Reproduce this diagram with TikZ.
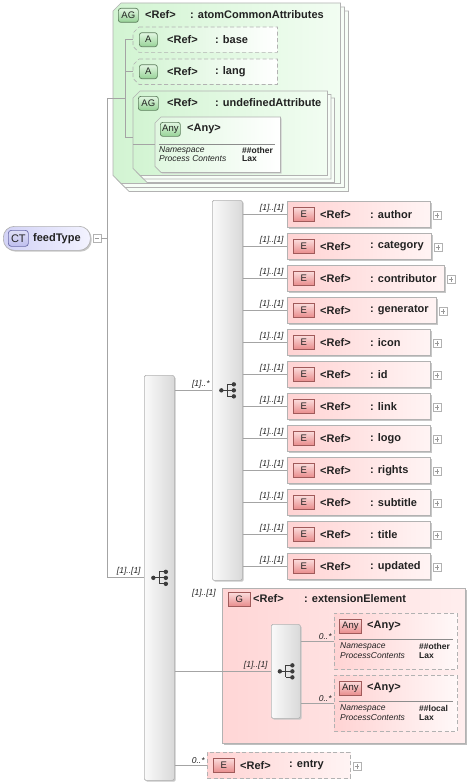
\documentclass[tikz,border=0pt]{standalone}
\usepackage{fontspec}
\setmainfont{Liberation Sans}
\usetikzlibrary{shadows,positioning}

\definecolor{linegray}{HTML}{A4A4A4}
\definecolor{boxgray}{HTML}{B2B2B2}
\definecolor{elleft}{HTML}{FFD3D3}
\definecolor{elright}{HTML}{FFF4F4}
\definecolor{ebtop}{HTML}{FBDCDC}
\definecolor{ebbot}{HTML}{E88C8C}
\definecolor{ebdraw}{HTML}{A05A5A}
\definecolor{agleft}{HTML}{D2F4D2}
\definecolor{agright}{HTML}{F2FDF2}
\definecolor{abtop}{HTML}{E2F7E2}
\definecolor{abbot}{HTML}{96D296}
\definecolor{abdraw}{HTML}{5E7E5E}
\definecolor{ctleft}{HTML}{D2D2F6}
\definecolor{ctright}{HTML}{F3F3FF}
\definecolor{ctbadge}{HTML}{BEBEEE}
\definecolor{ctdraw}{HTML}{6A6AA8}
\definecolor{gleft}{HTML}{FFD6D6}
\definecolor{gright}{HTML}{FFEEEE}
\definecolor{textdark}{HTML}{222222}
\definecolor{icondark}{HTML}{3C3C3C}

% outline of a box whose left corners are cut off
\newcommand{\chamfbox}[2]{([xshift=#2]#1.north west) -- (#1.north east) -- (#1.south east) -- ([xshift=#2]#1.south west) -- ([yshift=#2]#1.south west) -- ([yshift=-#2]#1.north west) -- cycle}

\tikzset{
  conn/.style={draw=linegray, line width=0.8pt},
  sepline/.style={draw=black!45, line width=0.6pt},
  refname/.style={anchor=west, inner sep=0pt, font=\fontsize{11}{13}\selectfont\bfseries, text=textdark},
  occ/.style={inner sep=0pt, font=\fontsize{8.5}{10}\selectfont\itshape, text=textdark},
  small/.style={anchor=west, inner sep=0pt, font=\fontsize{8.5}{10}\selectfont\itshape, text=textdark},
  smallval/.style={anchor=west, inner sep=0pt, font=\fontsize{8.5}{10}\selectfont\bfseries, text=textdark},
  badge/.style={anchor=north west, inner sep=0pt, minimum height=14pt, font=\fontsize{9.5}{11}\selectfont, text=textdark, line width=0.7pt},
  ebadge/.style={badge, draw=ebdraw, top color=ebtop, bottom color=ebbot, minimum width=21pt},
  agbadge/.style={badge, draw=abdraw, top color=abtop, bottom color=abbot, minimum width=20pt, rounded corners=2.5pt},
  ctbadge/.style={badge, draw=ctdraw, top color=white!50!ctbadge, bottom color=ctbadge, minimum width=20pt, minimum height=16pt, rounded corners=3pt, font=\fontsize{11}{13}\selectfont},
  plusbox/.style={anchor=west, draw=black!30, fill=white, minimum size=8pt, inner sep=0pt, line width=0.5pt,
    path picture={\draw[black!40, line width=0.6pt] ([xshift=1.8pt]path picture bounding box.west) -- ([xshift=-1.8pt]path picture bounding box.east) ([yshift=-1.8pt]path picture bounding box.north) -- ([yshift=1.8pt]path picture bounding box.south);}},
  minusbox/.style={anchor=west, draw=black!30, fill=white, minimum size=8pt, inner sep=0pt, line width=0.5pt,
    path picture={\draw[black!40, line width=0.6pt] ([xshift=1.8pt]path picture bounding box.west) -- ([xshift=-1.8pt]path picture bounding box.east);}},
  thinshadow/.style={drop shadow={shadow xshift=1.3pt, shadow yshift=-1.3pt, fill=black!22, opacity=1}},
  ctnode/.style={anchor=north west, inner sep=0pt, draw=boxgray, line width=0.7pt, left color=ctleft, right color=ctright, rounded corners=11pt, thinshadow},
  elbox/.style={anchor=north west, inner sep=0pt, minimum height=26pt, draw=boxgray, line width=0.7pt, left color=elleft, right color=elright},
  optdash/.style={dash pattern=on 4pt off 2.5pt},
  gbox/.style={anchor=north west, inner sep=0pt, draw=boxgray, line width=0.7pt, left color=gleft, right color=gright, drop shadow={shadow xshift=2pt, shadow yshift=-2pt, fill=black!25, opacity=1}},
  holder/.style={anchor=north west, inner sep=0pt},
  agshape/.style={draw=boxgray, line width=0.7pt, left color=agleft, right color=agright},
  stackshape/.style={draw=boxgray, line width=0.7pt, fill=agright!60!white},
  ashape/.style={draw=boxgray, line width=0.7pt, optdash, left color=agleft, right color=white},
  anyshape/.style={draw=boxgray, line width=0.7pt, left color=agleft!70, right color=white},
  anyel/.style={anchor=north west, inner sep=0pt, draw=boxgray, line width=0.7pt, optdash, left color=elleft, right color=elright!60!white},
  seqbox/.style={anchor=north west, inner sep=0pt, minimum width=30pt, draw=boxgray, line width=0.7pt, left color=black!2, right color=black!15, rounded corners=1.5pt, thinshadow},
  seqicon/.pic={
    \draw[icondark, line width=0.9pt] (-6,0) -- (0,0) (0,-6) -- (0,6) (0,-6) -- (6.5,-6) (0,0) -- (6.5,0) (0,6) -- (6.5,6);
    \fill[icondark] (-6,0) circle (2.2pt) (6.5,-6) circle (2.2pt) (6.5,0) circle (2.2pt) (6.5,6) circle (2.2pt);
  }
}

\begin{document}
\begin{tikzpicture}[x=1pt, y=-1pt]
  \useasboundingbox (0,0) rectangle (471,784);
  \fill[white] (0,0) rectangle (471,784);

  % feedType
  \node[ctnode, minimum width=87pt, minimum height=24pt] (feed) at (3,226) {};
  \node[ctbadge, anchor=west] (feedb) at ([xshift=5pt]feed.west) {CT};
  \node[refname] (feedn) at ([xshift=30pt]feed.west) {feedType};
  \node[minusbox] (feedm) at ([xshift=2pt]feed.east) {};
  \coordinate (trtop) at (107,98);
  \coordinate (trbot) at (107,577);
  \draw[conn] (feedm.east) -- (feedm.east -| trtop);
  \draw[conn] (trtop) -- (trbot);

  % atomCommonAttributes
  \node[holder, minimum width=227pt, minimum height=180pt] (acattr) at (113,3) {};
  \node[holder, minimum width=144pt, minimum height=25pt] (base) at (133,27) {};
  \node[holder, minimum width=144pt, minimum height=25pt] (lang) at (133,59) {};
  \node[holder, minimum width=194pt, minimum height=84pt] (undef) at (133,91) {};
  \node[holder, minimum width=125pt, minimum height=55pt] (uany) at (155,117) {};
  \foreach \s in {8,4}
    \draw[stackshape, transform canvas={xshift=\s pt, yshift=-\s pt}] \chamfbox{acattr}{8pt};
  \draw[agshape] \chamfbox{acattr}{8pt};
  \draw[ashape] \chamfbox{base}{6pt};
  \draw[ashape] \chamfbox{lang}{6pt};
  \foreach \s in {7,3.5}
    \draw[stackshape, transform canvas={xshift=\s pt, yshift=-\s pt}] \chamfbox{undef}{7pt};
  \draw[agshape] \chamfbox{undef}{7pt};
  \draw[fill=black!18, draw=none, transform canvas={xshift=1.3pt, yshift=-1.3pt}] \chamfbox{uany}{6pt};
  \draw[anyshape] \chamfbox{uany}{6pt};

  \node[agbadge] (acattrb) at (118,8) {AG};
  \node[refname] (acattrr) at (145,15) {<Ref>};
  \node[refname] (acattrn) at (190,15) {: atomCommonAttributes};
  \node[agbadge, anchor=west, minimum width=18pt] (baseb) at ([xshift=6pt]base.west) {A};
  \node[refname] (baser) at ([xshift=34pt]base.west) {<Ref>};
  \node[refname] (basen) at ([xshift=82pt]base.west) {: base};
  \node[agbadge, anchor=west, minimum width=18pt] (langb) at ([xshift=6pt]lang.west) {A};
  \node[refname] (langr) at ([xshift=34pt]lang.west) {<Ref>};
  \node[refname] (langn) at ([xshift=82pt]lang.west) {: lang};
  \node[agbadge] (undefb) at (138,96) {AG};
  \node[refname] (undefr) at (167,103) {<Ref>};
  \node[refname] (undefn) at (215,103) {: undefinedAttribute};
  \node[agbadge] (uanyb) at (160,122) {Any};
  \node[refname] (uanyr) at (187,129) {<Any>};
  \draw[sepline] ([xshift=4pt,yshift=-27pt]uany.north west) -- ([xshift=-5pt,yshift=-27pt]uany.north east);
  \node[small] (uanyns) at (159,150) {Namespace};
  \node[small] (uanypc) at (159,159) {Process Contents};
  \node[smallval] (uanynv) at (242,150) {\#\#other};
  \node[smallval] (uanypv) at (242,159) {Lax};
  \coordinate (acjoin) at (125,98);
  \coordinate (undefin) at (133,137);
  \draw[conn] (trtop) -- (acjoin);
  \draw[conn] (acjoin |- base.west) -- (acjoin |- undefin) -- (undefin);
  \draw[conn] (acjoin |- base.west) -- (base.west);
  \draw[conn] (acjoin |- lang.west) -- (lang.west);
  \draw[conn] (undefin |- uany.west) -- (uany.west);

  % sequences
  \node[seqbox, minimum height=405pt] (mainseq) at (144,375) {};
  \pic at (mainseq.center) {seqicon};
  \draw[conn] (trbot) -- (trbot -| mainseq.west) node[occ, anchor=south east, pos=1, xshift=-3pt, yshift=1.5pt] (mainocc) {[1]..[1]};
  \node[seqbox, minimum height=380pt] (innseq) at (212,200) {};
  \pic at (innseq.center) {seqicon};
  \draw[conn] (mainseq.east |- innseq.west) -- (innseq.west) node[occ, anchor=south east, pos=1, xshift=-2pt, yshift=1.5pt] (innocc) {[1]..*};

  % elements
  \foreach \nm/\w [count=\i from 0] in {author/143pt,category/144pt,contributor/157pt,generator/149pt,icon/143pt,id/143pt,link/143pt,logo/143pt,rights/143pt,subtitle/143pt,title/143pt,updated/143pt}{
    \node[elbox, thinshadow, minimum width=\w] (\nm) at (287,{201+32*\i}) {};
    \node[ebadge, anchor=west] (\nm-b) at ([xshift=6pt]\nm.west) {E};
    \node[refname] (\nm-r) at ([xshift=33pt]\nm.west) {<Ref>};
    \node[refname] (\nm-n) at ([xshift=83pt]\nm.west) {: \nm};
    \node[plusbox] (\nm-p) at ([xshift=2pt,yshift=-1pt]\nm.east) {};
    \draw[conn] (innseq.east |- \nm.west) -- (\nm.west) node[occ, anchor=south east, pos=1, xshift=-3pt, yshift=1.5pt] (\nm-o) {[1]..[1]};
  }

  % extensionElement
  \node[gbox, minimum width=243pt, minimum height=155pt] (extel) at (222,588) {};
  \node[ebadge, minimum width=22pt] (extelb) at (228,592) {G};
  \node[refname] (extelr) at (253,599) {<Ref>};
  \node[refname] (exteln) at (304,599) {: extensionElement};
  \node[occ, anchor=north east] (extelo) at (216,589) {[1]..[1]};
  \node[seqbox, minimum width=29pt, minimum height=94pt] (extseq) at (271,624) {};
  \pic at (extseq.center) {seqicon};
  \draw[conn] (mainseq.east |- extseq.west) -- (extseq.west) node[occ, anchor=south east, pos=1, xshift=-3pt, yshift=1.5pt] (extseqo) {[1]..[1]};
  % any ##other
  \node[anyel, minimum width=123pt, minimum height=56pt] (anyoth) at (334,613) {};
  \node[ebadge, minimum width=22pt] (anyothb) at (339,619) {Any};
  \node[refname] (anyothr) at (367,626) {<Any>};
  \draw[sepline] ([xshift=5pt,yshift=-26pt]anyoth.north west) -- ([xshift=-5pt,yshift=-26pt]anyoth.north east);
  \node[small] (anyothns) at (340,646) {Namespace};
  \node[small] (anyothpc) at (340,656) {ProcessContents};
  \node[smallval] (anyothnv) at (419,646) {\#\#other};
  \node[smallval] (anyothpv) at (419,656) {Lax};
  \draw[conn] (extseq.east |- anyoth.west) -- (anyoth.west) node[occ, anchor=south east, pos=1, xshift=-2pt, yshift=1.5pt] (anyotho) {0..*};
  % any ##local
  \node[anyel, minimum width=123pt, minimum height=56pt] (anyloc) at (334,675) {};
  \node[ebadge, minimum width=22pt] (anylocb) at (339,681) {Any};
  \node[refname] (anylocr) at (367,688) {<Any>};
  \draw[sepline] ([xshift=5pt,yshift=-26pt]anyloc.north west) -- ([xshift=-5pt,yshift=-26pt]anyloc.north east);
  \node[small] (anylocns) at (340,708) {Namespace};
  \node[small] (anylocpc) at (340,718) {ProcessContents};
  \node[smallval] (anylocnv) at (419,708) {\#\#local};
  \node[smallval] (anylocpv) at (419,718) {Lax};
  \draw[conn] (extseq.east |- anyloc.west) -- (anyloc.west) node[occ, anchor=south east, pos=1, xshift=-2pt, yshift=1.5pt] (anyloco) {0..*};

  % entry
  \node[elbox, optdash, minimum width=143pt] (entry) at (207,752) {};
  \node[ebadge, anchor=west] (entryb) at ([xshift=6pt]entry.west) {E};
  \node[refname] (entryr) at ([xshift=33pt]entry.west) {<Ref>};
  \node[refname] (entryn) at ([xshift=82pt]entry.west) {: entry};
  \node[plusbox] (entryp) at ([xshift=2pt,yshift=-1pt]entry.east) {};
  \draw[conn] (mainseq.east |- entry.west) -- (entry.west) node[occ, anchor=south east, pos=1, xshift=-2pt, yshift=1.5pt] (entryo) {0..*};
\end{tikzpicture}
\end{document}
